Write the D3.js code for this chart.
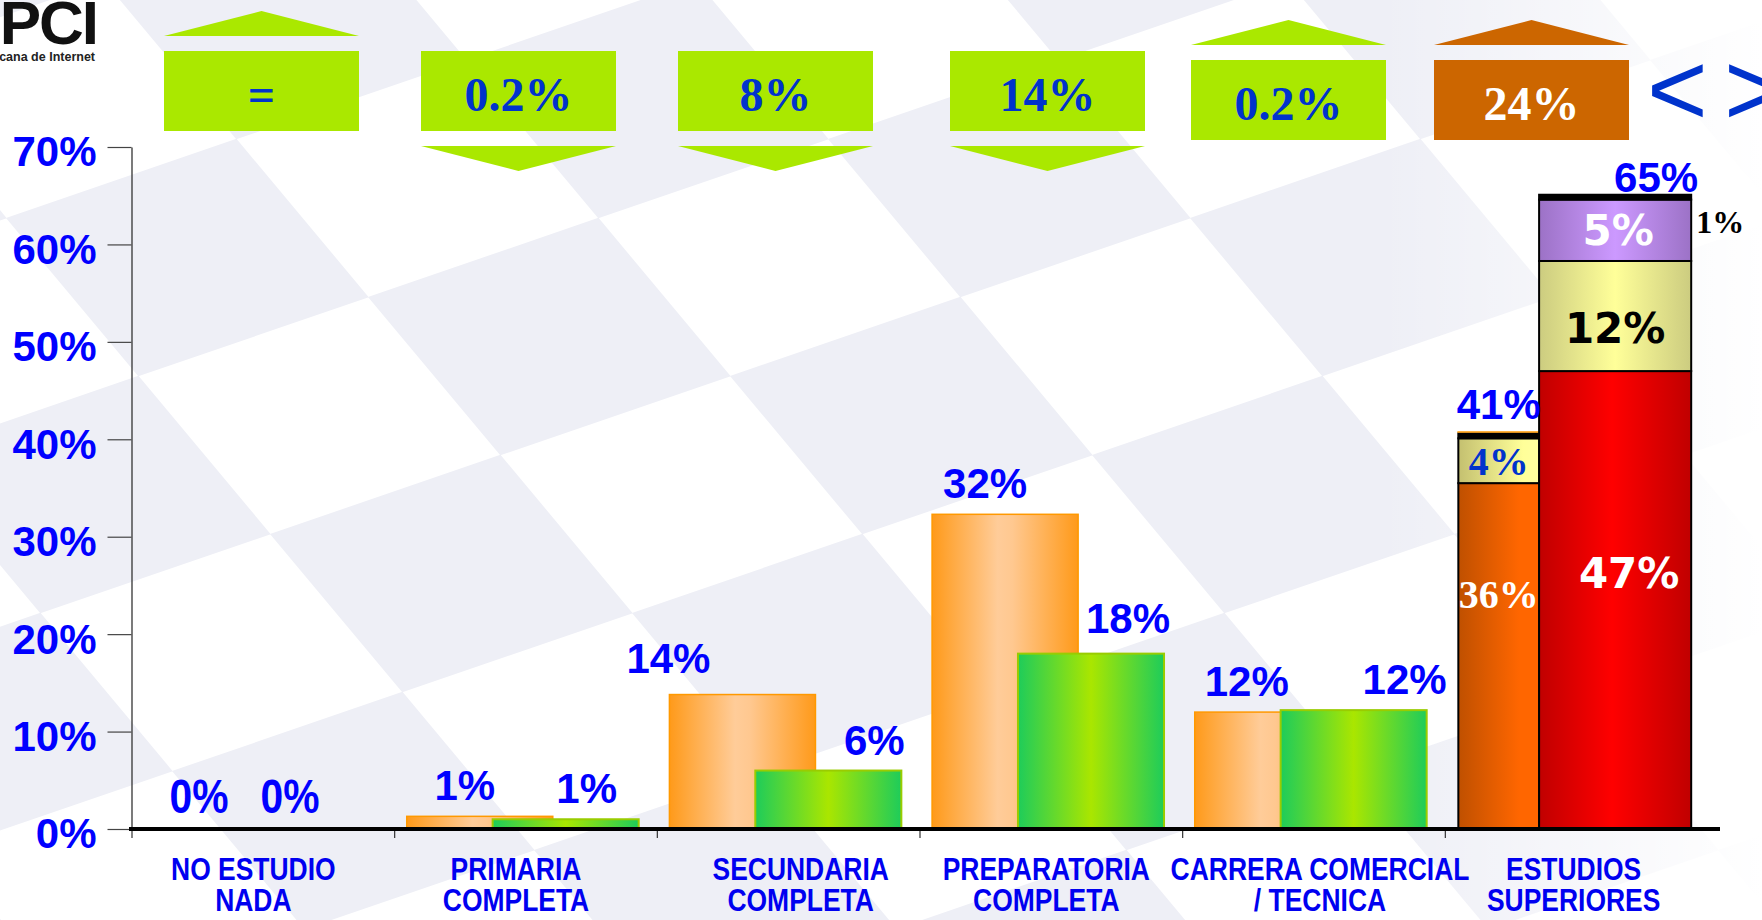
<!DOCTYPE html>
<html>
<head>
<meta charset="utf-8">
<script src="https://cdn.jsdelivr.net/npm/d3@7"></script>
<style>
  html, body { margin: 0; padding: 0; background: #fff; overflow: hidden; }
  svg { display: block; }
</style>
</head>
<body>
<svg id="chart" width="1762" height="920"></svg>
<script>
// ---------------------------------------------------------------------------
// Data
// ---------------------------------------------------------------------------

const categories = ["NO ESTUDIO", "PRIMARIA", "SECUNDARIA", "PREPARATORIA", "CARRERA", "ESTUDIOS"];
const categoryLines = [
  ["NO ESTUDIO", "NADA"],
  ["PRIMARIA", "COMPLETA"],
  ["SECUNDARIA", "COMPLETA"],
  ["PREPARATORIA", "COMPLETA"],
  ["CARRERA COMERCIAL", "/ TECNICA"],
  ["ESTUDIOS", "SUPERIORES"],
];

// first five categories: two overlapping bars each
const seriesA = [0, 1.3, 13.8, 32.3, 12];
const seriesB = [0, 1.0, 6, 18, 12.2];
const labelsA = ["0%", "1%", "14%", "32%", "12%"];
const labelsB = ["0%", "1%", "6%", "18%", "12%"];

// last category: two stacked bars
const stackA = [35.5, 4.6, 0.5];
const stackALabels = ["36%", "4%", ""];
const stackB = [47, 11.3, 6.3, 0.5];
const stackBLabels = ["47%", "12%", "5%", "1%"];
const stackTotals = ["41%", "65%"];

// change boxes over the chart
const changeLabels = ["=", "0.2%", "8%", "14%", "0.2%", "24%"];
const changeDirs = ["up", "down", "down", "down", "up", "up"];

const yTicks = [0, 10, 20, 30, 40, 50, 60, 70];

// ---------------------------------------------------------------------------
// Setup
// ---------------------------------------------------------------------------

const W = 1762, H = 920;
const BLUE = "#0000F0";
const SANS = "Arial, 'Liberation Sans', sans-serif";
const SERIF = "'Times New Roman', 'Liberation Serif', serif";
const WIDE = "'DejaVu Sans', Verdana, sans-serif";
const svg = d3.select("#chart");
const defs = svg.append("defs");

function addGrad(id, stops) {
  const lg = defs.append("linearGradient").attr("id", id)
    .attr("x1", 0).attr("x2", 1).attr("y1", 0).attr("y2", 0);
  stops.forEach(([o, c]) => lg.append("stop").attr("offset", o).attr("stop-color", c));
}
addGrad("gOrange", [[0, "#FF9A1A"], [0.45, "#FFCC99"], [0.55, "#FFC890"], [1, "#FF9A1A"]]);
addGrad("gGreen", [[0, "#1ECC5A"], [0.5, "#AAE600"], [1, "#1ECC5A"]]);
addGrad("gDarkOrange", [[0, "#BF5000"], [0.75, "#FF6600"], [1, "#FF6600"]]);
addGrad("gPale", [[0, "#C4C070"], [0.8, "#FFFF99"], [1, "#FFFFA0"]]);
addGrad("gRed", [[0, "#C00000"], [0.48, "#FF0000"], [1, "#C00000"]]);
addGrad("gYellow", [[0, "#CCCC80"], [0.5, "#FFFF99"], [1, "#CCCC80"]]);
addGrad("gPurple", [[0, "#9C72C6"], [0.5, "#CC99FF"], [1, "#9C72C6"]]);
addGrad("gFade", [[0, "rgba(255,255,255,0)"], [1, "rgba(255,255,255,1)"]]);

const stackAFill = ["url(#gDarkOrange)", "url(#gPale)", "#000"];
const stackBFill = ["url(#gRed)", "url(#gYellow)", "url(#gPurple)", "#000"];
const stackALabelFill = ["#fff", "#0033CC", "#000"];
const stackBLabelFill = ["#fff", "#000", "#fff", "#000"];

// ---------------------------------------------------------------------------
// Background: skewed checkerboard of pale tiles
// ---------------------------------------------------------------------------

svg.append("rect").attr("width", W).attr("height", H).attr("fill", "#fff");
const bg = svg.append("g").attr("transform", "matrix(230,-79,132,158,138,376)");
for (let i = -5; i <= 9; i++) {
  for (let j = -5; j <= 8; j++) {
    if ((i + j) % 2 !== 0) {
      bg.append("rect").attr("x", i).attr("y", j)
        .attr("width", 1.002).attr("height", 1.002).attr("fill", "#EEEFF6");
    }
  }
}
svg.append("rect").attr("x", 1380).attr("y", 0).attr("width", W - 1380).attr("height", H)
  .attr("fill", "url(#gFade)");

// ---------------------------------------------------------------------------
// Logo (cut off at left edge)
// ---------------------------------------------------------------------------

svg.append("text").attr("x", 97).attr("y", 44).attr("text-anchor", "end")
  .attr("font-family", SANS).attr("font-weight", "bold")
  .attr("font-size", 62).attr("letter-spacing", -2).attr("fill", "#111").text("AMIPCI");
svg.append("text").attr("x", 95).attr("y", 61).attr("text-anchor", "end")
  .attr("font-family", SANS).attr("font-weight", "bold")
  .attr("font-size", 12.5).attr("fill", "#222").text("Asociación Mexicana de Internet");

// ---------------------------------------------------------------------------
// Scales
// ---------------------------------------------------------------------------

const y = d3.scaleLinear().domain([0, 70]).range([829, 147]);
const x = d3.scaleBand().domain(categories).range([132, 1708]);
const bw = x.bandwidth();
const boxX = d3.scalePoint().domain(categories).range([164, 1434]);

// ---------------------------------------------------------------------------
// Change boxes
// ---------------------------------------------------------------------------

const BOX_W = 195, BOX_H = 80;
const boxNudge = [0, 3, 6, 24, 11, 0];
const boxTop = [51, 51, 51, 51, 60, 60];

changeLabels.forEach((lab, i) => {
  const left = boxX(categories[i]) + boxNudge[i];
  const top = boxTop[i];
  const hot = i === changeLabels.length - 1;
  const fill = hot ? "#CC6600" : "#AAE800";
  const g = svg.append("g");
  g.append("rect").attr("x", left).attr("y", top).attr("width", BOX_W).attr("height", BOX_H)
    .attr("fill", fill);
  let pts;
  if (changeDirs[i] === "up") {
    const b = top - 15;
    pts = [[left, b], [left + BOX_W, b], [left + BOX_W / 2, b - 25]];
  } else {
    const b = top + BOX_H + 15;
    pts = [[left, b], [left + BOX_W, b], [left + BOX_W / 2, b + 25]];
  }
  g.append("polygon").attr("points", pts.map(p => p.join(",")).join(" ")).attr("fill", fill);
  g.append("text").attr("x", left + BOX_W / 2).attr("y", top + 60).attr("text-anchor", "middle")
    .attr("font-family", SERIF).attr("font-weight", "bold")
    .attr("font-size", 48).attr("fill", hot ? "#fff" : "#0033CC").text(lab);
});

// navigation glyphs
[["<", 1647], [">", 1724]].forEach(([t, px]) => {
  svg.append("text").attr("x", px).attr("y", 125)
    .attr("font-family", SANS)
    .attr("font-size", 104).attr("fill", "#0033CC").text(t);
});

// ---------------------------------------------------------------------------
// Axes
// ---------------------------------------------------------------------------

const yAxis = svg.append("g").attr("transform", "translate(131.5,0)")
  .call(d3.axisLeft(y).tickValues(yTicks).tickSize(24).tickSizeOuter(0)
    .tickPadding(11).tickFormat(d => d + "%"));
yAxis.select(".domain").attr("stroke", "#333").attr("stroke-width", 1.3);
yAxis.selectAll(".tick line").attr("stroke", "#444").attr("stroke-width", 1.2);
yAxis.selectAll(".tick text")
  .attr("font-family", SANS).attr("font-weight", "bold")
  .attr("font-size", 42).attr("fill", "#0000FF").attr("dy", "0.45em");

// category boundary ticks
svg.append("g").selectAll("line").data(categories).join("line")
  .attr("x1", d => x(d)).attr("x2", d => x(d))
  .attr("y1", 829).attr("y2", 838).attr("stroke", "#333").attr("stroke-width", 1.2);

// category labels
function narrowText(parent, px, py, sx, txt, size, fill) {
  return parent.append("text").attr("transform", `translate(${px},${py}) scale(${sx},1)`)
    .attr("text-anchor", "middle")
    .attr("font-family", SANS).attr("font-weight", "bold")
    .attr("font-size", size).attr("fill", fill).text(txt);
}
const catNudge = [-10, -10, 12, -5, 6, -3];
categoryLines.forEach((lines, i) => {
  const cx = x(categories[i]) + bw / 2 + catNudge[i];
  narrowText(svg, cx, 880, 0.84, lines[0], 31.5, BLUE);
  narrowText(svg, cx, 911, 0.84, lines[1], 31.5, BLUE);
});

// ---------------------------------------------------------------------------
// Bars
// ---------------------------------------------------------------------------

const barsG = svg.append("g");
const firstCats = categories.slice(0, seriesA.length);

barsG.selectAll("rect.a").data(seriesA).join("rect").attr("class", "a")
  .attr("x", (d, i) => x(firstCats[i]) + 0.046 * bw)
  .attr("width", 0.556 * bw)
  .attr("y", d => y(d)).attr("height", d => y(0) - y(d))
  .attr("fill", "url(#gOrange)").attr("stroke", "#FF9900").attr("stroke-width", 1.5)
  .attr("display", d => d > 0 ? null : "none");

barsG.selectAll("rect.b").data(seriesB).join("rect").attr("class", "b")
  .attr("x", (d, i) => x(firstCats[i]) + 0.373 * bw)
  .attr("width", 0.556 * bw)
  .attr("y", d => y(d)).attr("height", d => y(0) - y(d))
  .attr("fill", "url(#gGreen)").attr("stroke", "#99CC00").attr("stroke-width", 2)
  .attr("display", d => d > 0 ? null : "none");

// stacked bars of the last category
const lastCat = categories[categories.length - 1];
function drawStack(values, fills, labels, labelFills, offset, width, labelAt, labelDx, font) {
  let acc = 0;
  const x0 = x(lastCat) + offset * bw, w = width * bw;
  values.forEach((v, k) => {
    const y0 = acc, y1 = acc + v;
    acc = y1;
    barsG.append("rect").attr("x", x0).attr("y", y(y1)).attr("width", w)
      .attr("height", y(y0) - y(y1)).attr("fill", fills[k])
      .attr("stroke", "#000").attr("stroke-width", 2);
  });
  acc = 0;
  values.forEach((v, k) => {
    const y0 = acc;
    acc += v;
    if (!labels[k] || labelAt[k] == null) return;
    barsG.append("text").attr("x", x0 + w / 2 + labelDx[k]).attr("y", y(y0 + v * labelAt[k]))
      .attr("dy", "0.36em").attr("text-anchor", "middle")
      .attr("font-family", font.family).attr("font-weight", "bold").attr("font-size", font.size)
      .attr("fill", labelFills[k]).text(labels[k]);
  });
  return { x0, w, top: acc };
}
const sA = drawStack(stackA, stackAFill, stackALabels, stackALabelFill, 0.0495, 0.308,
  [0.68, 0.5, null], [0, 0, 0], { family: SERIF, size: 40 });
// thin orange cap line on the 41% bar
barsG.append("line").attr("x1", sA.x0 - 1).attr("x2", sA.x0 + sA.w + 1)
  .attr("y1", y(sA.top) - 1.5).attr("y2", y(sA.top) - 1.5).attr("stroke", "#FF9900").attr("stroke-width", 1.5);
const sB = drawStack(stackB, stackBFill, stackBLabels, stackBLabelFill, 0.357, 0.579,
  [0.56, 0.39, 0.5, null], [14, 0, 3, 0], { family: WIDE, size: 42 });
// label for the thin top segment, placed beside the bar
barsG.append("text").attr("x", sB.x0 + sB.w + 5).attr("y", 233)
  .attr("font-family", SERIF).attr("font-weight", "bold").attr("font-size", 32)
  .attr("fill", "#000").text(stackBLabels[3]);

// ---------------------------------------------------------------------------
// Value labels
// ---------------------------------------------------------------------------

const nudgeA = [0, 3, -56, -2, -3];
const nudgeB = [-50, -16, 9, 0, 14];
const liftA = [0, 0, 6, 0, 0];
const liftB = [0, 0, 0, 5, 0];
function valueLabel(v, txt, cx, lift) {
  const py = y(v) - 16 - lift;
  if (v === 0) {
    narrowText(svg, cx, py, 0.85, txt, 48, "#0000FF");
  } else {
    svg.append("text").attr("x", cx).attr("y", py).attr("text-anchor", "middle")
      .attr("font-family", SANS).attr("font-weight", "bold")
      .attr("font-size", 42).attr("fill", "#0000FF").text(txt);
  }
}
seriesA.forEach((v, i) => valueLabel(v, labelsA[i], x(firstCats[i]) + 0.046 * bw + 55 + nudgeA[i], liftA[i]));
seriesB.forEach((v, i) => valueLabel(v, labelsB[i], x(firstCats[i]) + 0.373 * bw + 110 + nudgeB[i], liftB[i]));

[[sA, 0, -14], [sB, 41, -3]].forEach(([s, dx, dy], k) => {
  svg.append("text").attr("x", s.x0 + s.w / 2 + dx).attr("y", y(s.top) + dy).attr("text-anchor", "middle")
    .attr("font-family", SANS).attr("font-weight", "bold")
    .attr("font-size", 42).attr("fill", "#0000FF").text(stackTotals[k]);
});

// baseline
svg.append("line").attr("x1", 129).attr("x2", 1720).attr("y1", 829).attr("y2", 829)
  .attr("stroke", "#000").attr("stroke-width", 4);
</script>
</body>
</html>
